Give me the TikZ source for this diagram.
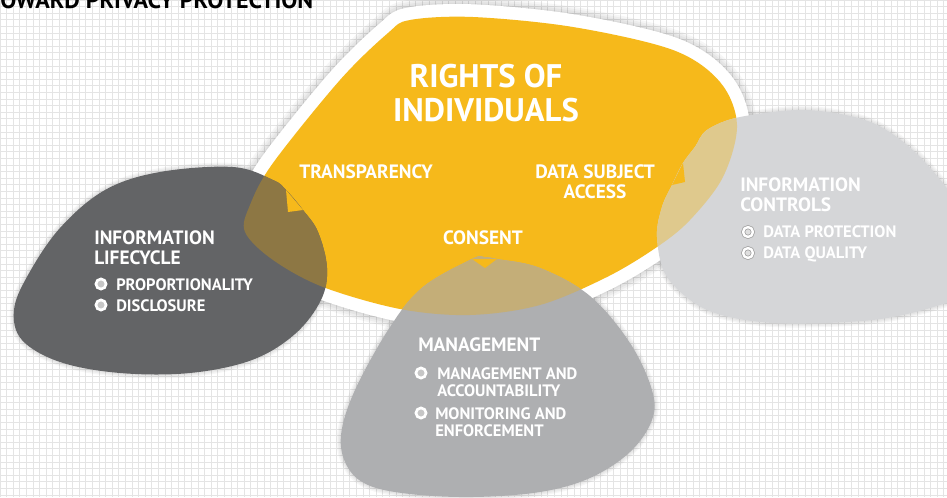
\documentclass[tikz,border=0pt]{standalone}
\usepackage{fontspec}
\setmainfont{PT Sans}
\usetikzlibrary{positioning}
\definecolor{rightsyellow}{HTML}{F6B91B}
\definecolor{lifedark}{HTML}{636466}
\definecolor{mgmtgray}{HTML}{AEAFB1}
\definecolor{ctrlgray}{HTML}{D5D6D8}
\definecolor{lifeover}{HTML}{8D7744}
\definecolor{mgmtover}{HTML}{C4AE78}
\definecolor{ctrlover}{HTML}{DFC98D}
\definecolor{gridgray}{HTML}{E4E4E4}
\tikzset{
  gridline/.style   = {draw=gridgray, line width=0.6pt},
  blobshadow/.style = {draw=black, opacity=0.035, line join=round},
  rimwhite/.style   = {draw=white, line width=19pt, line join=round},
  bigtitle/.style   = {text=white, font=\fontsize{24.5}{25.5}\selectfont\bfseries,
                       align=center, inner sep=0pt},
  headtext/.style   = {text=white, font=\fontsize{14.5}{15}\selectfont\bfseries,
                       align=left, inner sep=0pt},
  itemtext/.style   = {text=white, font=\fontsize{12.4}{12.75}\selectfont\bfseries,
                       align=left, inner sep=0pt},
  pagetitle/.style  = {text=black, font=\fontsize{18}{18}\selectfont\bfseries,
                       inner sep=0pt},
  bulletdot/.style  = {circle, fill=gray!45, draw=white, line width=2pt,
                       minimum size=7.6pt, inner sep=0pt},
  bulletring/.style = {bulletdot, fill=gray!25, draw=gray!75, double=white,
                       double distance=1.8pt, line width=0.55pt, minimum size=7.4pt},
}
% outlines of the four areas, in pixel units
\newcommand\rightsblob{plot[smooth cycle, tension=0.55] coordinates {
  (410,20) (473,17) (573,27) (673,50) (720,82) (737,125) (723,177) (690,220)
  (657,247) (607,277) (540,305) (470,315) (400,309) (323,287) (273,260)
  (245,232) (250,205) (273,163) (340,80) (388,33)}}
\newcommand\lifeblob{plot[smooth cycle, tension=0.6] coordinates {
  (233,167) (273,180) (286,190) (303,210) (318,232) (327,268) (321,300)
  (295,334) (252,360) (190,373) (120,373) (60,362) (22,340) (14,310)
  (28,275) (60,228) (105,190) (160,172)}}
\newcommand\mgmtblob{plot[smooth cycle, tension=0.6] coordinates {
  (472,259) (484,257) (497,259) (540,268) (590,296) (630,343) (652,390)
  (652,420) (630,452) (590,478) (540,492) (473,497) (410,494) (368,485)
  (347,466) (341,435) (355,390) (390,327) (423,287)}}
\newcommand\ctrlblob{plot[smooth cycle, tension=0.55] coordinates {
  (695,147) (707,130) (740,117) (807,110) (873,123) (923,160) (965,220)
  (965,290) (940,305) (873,320) (773,323) (707,310) (667,277) (657,237)
  (662,207) (672,185) (683,163)}}
\begin{document}
\begin{tikzpicture}[x=0.75pt, y=-0.75pt]
  \useasboundingbox (0,0) rectangle (947,497);
  \clip (0,0) rectangle (947,497);
  \fill[white] (0,0) rectangle (947,497);
  \foreach \gx in {0,6.6,...,947} \draw[gridline] (\gx,0) -- (\gx,497);
  \foreach \gy in {0,6.6,...,497} \draw[gridline] (0,\gy) -- (947,\gy);

  \node[pagetitle, anchor=base west] (title) at (0,8) {OWARD PRIVACY PROTECTION};

  % soft shadows
  \foreach \w in {21,24,27,30} \draw[blobshadow, line width=\w pt] \rightsblob;
  \foreach \w in {2,4,6} {
    \draw[blobshadow, line width=\w pt] \lifeblob;
    \draw[blobshadow, line width=\w pt] \mgmtblob;
    \draw[blobshadow, line width=\w pt] \ctrlblob;
  }

  \draw[rimwhite] \rightsblob;
  \fill[rightsyellow] \rightsblob;
  \fill[lifedark] \lifeblob;
  \fill[mgmtgray] \mgmtblob;
  \fill[ctrlgray] \ctrlblob;
  \begin{scope}
    \clip \rightsblob;
    \fill[lifeover] \lifeblob;
    \fill[mgmtover] \mgmtblob;
    \fill[ctrlover] \ctrlblob;
  \end{scope}
  % small pointers
  \fill[rightsyellow] (286,190) -- (288,212) -- (303,210) -- cycle;
  \fill[rightsyellow] (472,259) -- (485,268) -- (497,259) -- cycle;
  \fill[rightsyellow] (683,163) -- (685,182) -- (672,185) -- cycle;

  \node[bigtitle, anchor=north] (rights) at (486,64) {RIGHTS OF\\INDIVIDUALS};
  \node[headtext, anchor=north] (transp) at (366,164) {TRANSPARENCY};
  \node[headtext, anchor=north, align=center] (access) at (595,164) {DATA SUBJECT\\ACCESS};
  \node[headtext, anchor=north] (consent) at (483,230) {CONSENT};

  \node[headtext, anchor=north west] (lifecycle) at (94,230) {INFORMATION\\LIFECYCLE};
  \node[bulletdot] (propdot) at (101,284) {};
  \node[itemtext, anchor=west] (prop) at (116,285) {PROPORTIONALITY};
  \node[bulletdot] (discdot) at (101,305) {};
  \node[itemtext, anchor=west] (disc) at (116,306) {DISCLOSURE};

  \node[headtext, anchor=north west] (controls) at (740,177) {INFORMATION\\CONTROLS};
  \node[bulletring] (protdot) at (748,232) {};
  \node[itemtext, anchor=west] (prot) at (763,232) {DATA PROTECTION};
  \node[bulletring] (qualdot) at (748,253) {};
  \node[itemtext, anchor=west] (qual) at (763,254) {DATA QUALITY};

  \node[headtext, anchor=north west] (mgmt) at (418,337) {MANAGEMENT};
  \node[bulletdot] (acctdot) at (421,373) {};
  \node[itemtext, anchor=north west] (acct) at (437,367) {MANAGEMENT AND\\ACCOUNTABILITY};
  \node[bulletdot] (mondot) at (421,413) {};
  \node[itemtext, anchor=north west] (mon) at (435,407) {MONITORING AND\\ENFORCEMENT};
\end{tikzpicture}
\end{document}
